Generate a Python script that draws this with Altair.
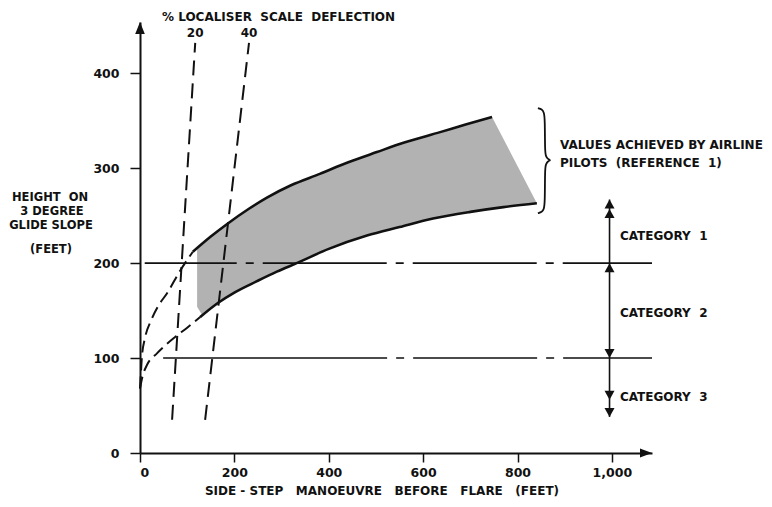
import altair as alt
import pandas as pd

# ---------------- data ----------------
# upper boundary (dashed part near the origin, then solid)
upper_dash_x = [0, 2, 4, 11, 23, 40, 57, 85, 112]
upper_dash_y = [68, 85, 101, 122, 139, 156, 168, 192, 212]
upper_x = [112, 150, 184, 230, 269, 320, 381, 440, 502, 560, 636, 690, 746]
upper_y = [212, 228, 241, 257, 269, 282, 294, 306, 317, 327, 338, 346, 354]

# lower boundary (dashed part near the origin, then solid)
lower_dash_x = [0, 5, 15, 36, 74, 100, 127]
lower_dash_y = [68, 80, 93, 105, 122, 132, 143]
lower_x = [127, 165, 200, 248, 290, 332, 400, 481, 550, 621, 700, 770, 841]
lower_y = [143, 158, 169, 181, 191, 200, 215, 229, 238, 247, 254, 259, 263]

# left edge of the shaded band
shade_left_x = [121, 121]
shade_left_y = [215, 154]
shade_bl_x = [131]
shade_bl_y = [146]

# localiser scale deflection lines
loc_labels = ["20", "40"]
loc_x0 = [68, 138]
loc_x1 = [117, 231]
loc_y0 = [35, 35]
loc_y1 = [432, 432]

# category limit lines
ref_levels = [200, 100]
ref_x0 = [10, 49]
ref_x1 = [1085, 1085]

# category arrows
cat_x = [995]
cat_top = [267]
cat_bottom = [38]
arrow_up_tips = [267, 257, 200]
arrow_down_tips = [100, 56, 38]
cat_labels = ["CATEGORY\u00a0\u00a01", "CATEGORY\u00a0\u00a02", "CATEGORY\u00a0\u00a03"]
cat_label_y = [229, 147, 59]
cat_label_x = [1017, 1017, 1017]

# brace
brace_x = [843.2, 851.7, 855.9, 858.1, 858.1, 860.2, 864.4, 870.8, 864.4, 860.2, 858.1, 858.1, 855.9, 851.7, 843.2]
brace_y = [363.2, 362.1, 358.9, 352.6, 316.8, 312.6, 309.5, 308.4, 307.4, 304.2, 300.0, 263.2, 256.8, 253.7, 252.6]

x_ticks = [0, 200, 400, 600, 800, 1000]
y_ticks = [0, 100, 200, 300, 400]
x_max = 1085
y_max = 454

FONT = "DejaVu Sans"
INK = "#111111"
SP2 = "\u00a0\u00a0"
SP3 = "\u00a0\u00a0\u00a0"

# ---------------- scales / axes ----------------
xs = alt.Scale(domain=[0, x_max], nice=False, zero=False)
ys = alt.Scale(domain=[0, y_max], nice=False, zero=False)
x_axis = alt.Axis(values=x_ticks, format=",d", title=None, grid=False,
                  domainColor=INK, domainWidth=2, tickColor=INK, tickWidth=1.5,
                  tickSize=9, labelFont=FONT, labelFontSize=12.5, labelFontWeight="bold",
                  labelColor=INK, labelPadding=4)
y_axis = alt.Axis(values=y_ticks, format="d", title=None, grid=False,
                  domainColor=INK, domainWidth=2, tickColor=INK, tickWidth=1.5,
                  tickSize=10, labelFont=FONT, labelFontSize=12.5, labelFontWeight="bold",
                  labelColor=INK, labelPadding=11)


def X(f="x"):
    return alt.X(f, type="quantitative", scale=xs, axis=x_axis)


def Y(f="y"):
    return alt.Y(f, type="quantitative", scale=ys, axis=y_axis)


# ---------------- frames ----------------
shade_x = shade_left_x[:1] + [v for v in upper_x if v > 121] + lower_x[::-1] + shade_bl_x + shade_left_x[1:]
shade_y = shade_left_y[:1] + [upper_y[i] for i, v in enumerate(upper_x) if v > 121] + lower_y[::-1] + shade_bl_y + shade_left_y[1:]
shade_df = pd.DataFrame({"x": shade_x, "y": shade_y, "i": range(len(shade_x))})

upper_df = pd.DataFrame({"x": upper_x, "y": upper_y, "i": range(len(upper_x))})
lower_df = pd.DataFrame({"x": lower_x, "y": lower_y, "i": range(len(lower_x))})
udash_df = pd.DataFrame({"x": upper_dash_x, "y": upper_dash_y, "i": range(len(upper_dash_x))})
ldash_df = pd.DataFrame({"x": lower_dash_x, "y": lower_dash_y, "i": range(len(lower_dash_x))})

loc_rows = []
for k, lab in enumerate(loc_labels):
    loc_rows.append({"s": lab, "x": loc_x0[k], "y": loc_y0[k], "i": 0})
    loc_rows.append({"s": lab, "x": loc_x1[k], "y": loc_y1[k], "i": 1})
loc_df = pd.DataFrame(loc_rows)
loc_lab_df = pd.DataFrame({"s": loc_labels, "x": loc_x1})

ref200 = pd.DataFrame({"y": ref_levels[:1], "x": ref_x0[:1], "x1": ref_x1[:1]})
ref100 = pd.DataFrame({"y": ref_levels[1:], "x": ref_x0[1:], "x1": ref_x1[1:]})

cat_df = pd.DataFrame({"x": cat_x, "y": cat_top, "y2": cat_bottom})
up_df = pd.DataFrame({"x": cat_x * len(arrow_up_tips), "y": arrow_up_tips})
down_df = pd.DataFrame({"x": cat_x * len(arrow_down_tips), "y": arrow_down_tips})
cat_lab_df = pd.DataFrame({"x": cat_label_x, "y": cat_label_y, "t": cat_labels})

brace_df = pd.DataFrame({"x": brace_x, "y": brace_y, "i": range(len(brace_x))})
yarrow_df = pd.DataFrame({"x": [0], "y": [y_max]})
xarrow_df = pd.DataFrame({"x": [x_max], "y": [0]})

# ---------------- layers ----------------
shade = alt.Chart(shade_df).mark_line(fill="#b2b2b2", strokeWidth=0, interpolate="linear").encode(
    x=X(), y=Y(), order="i:Q")

r200 = alt.Chart(ref200).mark_rule(color=INK, strokeWidth=1.6,
                                   strokeDash=[92, 9, 8, 9, 124, 9, 8, 9, 124, 9, 8, 9, 300]).encode(
    x=X(), x2="x1", y=Y())
r100 = alt.Chart(ref100).mark_rule(color=INK, strokeWidth=1.6,
                                   strokeDash=[224, 9, 8, 9, 124, 9, 8, 9, 300]).encode(
    x=X(), x2="x1", y=Y())

loc = alt.Chart(loc_df).mark_line(color=INK, strokeWidth=2, strokeDash=[15, 8]).encode(
    x=X(), y=Y(), detail="s:N", order="i:Q")

udash = alt.Chart(udash_df).mark_line(color=INK, strokeWidth=2, strokeDash=[12, 6], interpolate="monotone").encode(
    x=X(), y=Y(), order="i:Q")
ldash = alt.Chart(ldash_df).mark_line(color=INK, strokeWidth=2, strokeDash=[12, 6], interpolate="monotone").encode(
    x=X(), y=Y(), order="i:Q")
upper = alt.Chart(upper_df).mark_line(color=INK, strokeWidth=2.6, interpolate="monotone").encode(
    x=X(), y=Y(), order="i:Q")
lower = alt.Chart(lower_df).mark_line(color=INK, strokeWidth=2.6, interpolate="monotone").encode(
    x=X(), y=Y(), order="i:Q")

cat_line = alt.Chart(cat_df).mark_rule(color=INK, strokeWidth=1.6).encode(x=X(), y=Y(), y2="y2")
ups = alt.Chart(up_df).mark_point(shape="M0,0L-1,1.8L1,1.8Z", size=100, filled=True,
                                  color=INK, opacity=1, strokeWidth=0).encode(x=X(), y=Y())
downs = alt.Chart(down_df).mark_point(shape="M0,0L-1,-1.8L1,-1.8Z", size=100, filled=True,
                                      color=INK, opacity=1, strokeWidth=0).encode(x=X(), y=Y())
yarrow = alt.Chart(yarrow_df).mark_point(shape="M0,0L-0.8,2L0.8,2Z", size=144, filled=True,
                                         color=INK, opacity=1, strokeWidth=0).encode(x=X(), y=Y())
xarrow = alt.Chart(xarrow_df).mark_point(shape="M0,0L-2,-0.75L-2,0.75Z", size=144, filled=True,
                                         color=INK, opacity=1, strokeWidth=0).encode(x=X(), y=Y())

brace = alt.Chart(brace_df).mark_line(color=INK, strokeWidth=1.8, interpolate="basis").encode(
    x=X(), y=Y(), order="i:Q")

TXT = dict(font=FONT, fontWeight="bold", fontSize=12, color=INK)

cat_text = alt.Chart(cat_lab_df).mark_text(align="left", baseline="middle", **TXT).encode(
    x=X(), y=Y(), text="t:N")
loc_text = alt.Chart(loc_lab_df).mark_text(align="center", baseline="middle", **TXT).encode(
    x=X(), y=alt.value(11), text="s:N")


def note(txt, px, py, align="left", size=12):
    style = dict(TXT)
    style["fontSize"] = size
    return alt.Chart(pd.DataFrame({"t": [txt]})).mark_text(align=align, baseline="middle", **style).encode(
        x=alt.value(px), y=alt.value(py), text="t:N")


notes = [
    note("%\u00a0LOCALISER" + SP2 + "SCALE" + SP2 + "DEFLECTION", 22, -5),
    note("VALUES ACHIEVED BY AIRLINE", 420, 123, "left", 12),
    note("PILOTS" + SP2 + "(REFERENCE" + SP2 + "1)", 420, 141),
    note("HEIGHT\u00a0\u00a0ON", -90, 176, "center", 11.5),
    note("3 DEGREE", -88, 190, "center", 11.5),
    note("GLIDE SLOPE", -89, 204, "center", 11.5),
    note("(FEET)", -89, 228, "center", 11.5),
    note("SIDE - STEP" + SP3 + "MANOEUVRE" + SP3 + "BEFORE" + SP3 + "FLARE" + SP3 + "(FEET)", 242, 469, "center"),
]

chart = alt.layer(
    shade, r200, r100, loc, udash, ldash, upper, lower, cat_line, ups, downs,
    yarrow, xarrow, brace, cat_text, loc_text, *notes
).properties(
    width=512, height=431,
    padding={"left": 132, "top": 14, "right": 112, "bottom": 46},
    autosize=alt.AutoSizeParams(type="none"),
    background="white",
).configure_view(strokeWidth=0)

chart.save("out.html", embed_options={"renderer": "svg", "actions": False})
